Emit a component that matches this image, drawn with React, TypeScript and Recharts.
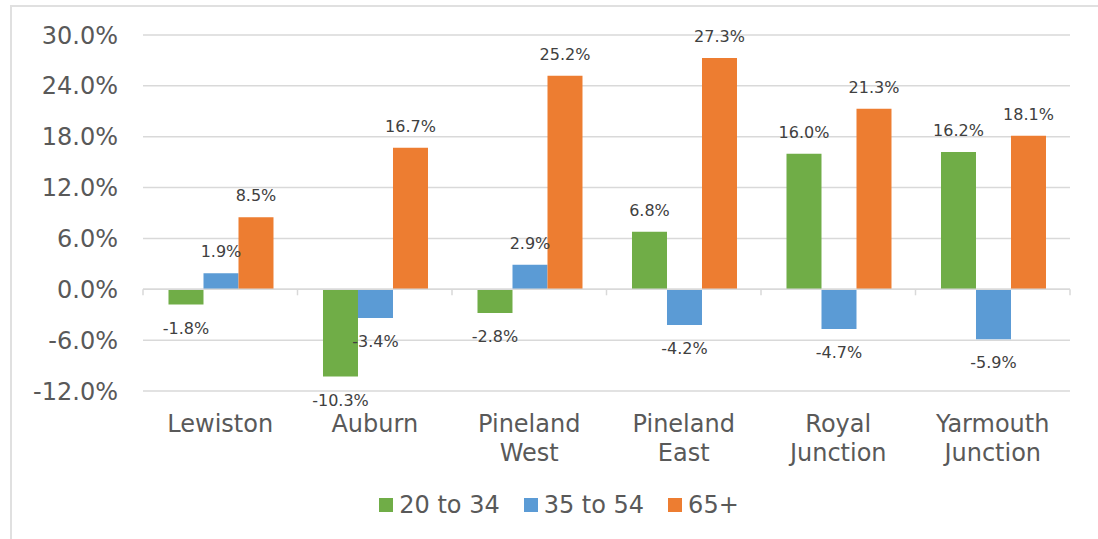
import React from 'react';
import {
  BarChart,
  Bar,
  XAxis,
  YAxis,
  CartesianGrid,
  Legend,
  LabelList,
  ReferenceLine,
} from 'recharts';

// Population change by age group, per town (percent)
const categories = [
  'Lewiston',
  'Auburn',
  'Pineland West',
  'Pineland East',
  'Royal Junction',
  'Yarmouth Junction',
];
const age20to34 = [-1.8, -10.3, -2.8, 6.8, 16.0, 16.2];
const age35to54 = [1.9, -3.4, 2.9, -4.2, -4.7, -5.9];
const age65plus = [8.5, 16.7, 25.2, 27.3, 21.3, 18.1];
const yTicks = [-12, -6, 0, 6, 12, 18, 24, 30];

const series = [
  { key: 'a', name: '20 to 34', color: '#70AD47' },
  { key: 'b', name: '35 to 54', color: '#5B9BD5' },
  { key: 'c', name: '65+', color: '#ED7D31' },
];

const chartData = categories.map((name, i) => ({
  name,
  a: age20to34[i],
  b: age35to54[i],
  c: age65plus[i],
}));

const FONT = '"DejaVu Sans", Verdana, sans-serif';
const AXIS_TEXT = '#595959';
const GRID = '#d9d9d9';

const pct = (v: number) => `${v.toFixed(1)}%`;

// value labels sit above positive bars and below negative ones
const renderValueLabel = (props: any) => {
  const { x, y, width, height, value } = props;
  const top = Math.min(Number(y), Number(y) + Number(height));
  const bottom = Math.max(Number(y), Number(y) + Number(height));
  const cx = Number(x) + Number(width) / 2;
  const ty = value >= 0 ? top - 16 : bottom + 29;
  return (
    <text
      x={cx}
      y={ty}
      textAnchor="middle"
      fill="#404040"
      fontSize={16}
      fontFamily={FONT}
    >
      {pct(Number(value))}
    </text>
  );
};

// category names wrap one word per line
const CategoryTick = (props: any) => {
  const { x, y, payload } = props;
  const words = String(payload.value).split(' ');
  return (
    <text
      x={x}
      y={y + 41}
      textAnchor="middle"
      fill={AXIS_TEXT}
      fontSize={24}
      fontFamily={FONT}
    >
      {words.map((w, i) => (
        <tspan key={w} x={x} dy={i === 0 ? 0 : 29}>
          {w}
        </tspan>
      ))}
    </text>
  );
};

// horizontal axis line crossing at zero, with tick marks between categories
const ZeroAxis = (props: any) => {
  const { x1, x2, y1 } = props;
  const step = (x2 - x1) / categories.length;
  const marks = [];
  for (let i = 0; i <= categories.length; i++) {
    const tx = x1 + i * step;
    marks.push(
      <line key={i} x1={tx} x2={tx} y1={y1} y2={y1 + 6} stroke={GRID} strokeWidth={1.5} />
    );
  }
  return (
    <g>
      <line x1={x1} x2={x2} y1={y1} y2={y1} stroke={GRID} strokeWidth={1.5} />
      {marks}
    </g>
  );
};

const LegendContent = () => (
  <div
    style={{
      display: 'flex',
      justifyContent: 'center',
      alignItems: 'center',
      fontFamily: FONT,
      fontSize: 24,
      lineHeight: '28px',
      color: AXIS_TEXT,
    }}
  >
    {series.map((s, i) => (
      <div
        key={s.key}
        style={{
          display: 'flex',
          alignItems: 'center',
          marginRight: i < series.length - 1 ? 24 : 0,
        }}
      >
        <span
          style={{
            display: 'inline-block',
            width: 14,
            height: 14,
            background: s.color,
            marginRight: 6,
          }}
        />
        <span>{s.name}</span>
      </div>
    ))}
  </div>
);

export default function App() {
  return (
    <div
      style={{
        position: 'absolute',
        left: 0,
        top: 0,
        width: 1098,
        height: 539,
        overflow: 'hidden',
        background: '#fff',
      }}
    >
      <div
        style={{
          position: 'absolute',
          left: 10,
          top: 5,
          width: 1200,
          height: 600,
          border: '2px solid #e0e0e0',
          boxSizing: 'border-box',
        }}
      />
      <div style={{ position: 'absolute', left: 0, top: 0 }}>
        <BarChart
          width={1098}
          height={539}
          data={chartData}
          margin={{ top: 35, right: 28, bottom: 48, left: 0 }}
          barCategoryGap="16.5%"
          barGap={0}
        >
          <CartesianGrid vertical={false} stroke={GRID} strokeWidth={1.5} />
          <XAxis
            dataKey="name"
            axisLine={false}
            tickLine={false}
            tickSize={0}
            tickMargin={0}
            interval={0}
            height={100}
            tick={<CategoryTick />}
          />
          <YAxis
            domain={[-12, 30]}
            ticks={yTicks}
            width={143}
            axisLine={false}
            tickLine={false}
            tickSize={0}
            tickMargin={25}
            tickFormatter={pct}
            tick={{ fill: AXIS_TEXT, fontSize: 24, fontFamily: FONT }}
          />
          <ReferenceLine y={0} shape={<ZeroAxis />} />
          {series.map((s) => (
            <Bar
              key={s.key}
              dataKey={s.key}
              name={s.name}
              fill={s.color}
              isAnimationActive={false}
            >
              <LabelList dataKey={s.key} content={renderValueLabel} />
            </Bar>
          ))}
          <Legend
            verticalAlign="middle"
            align="center"
            wrapperStyle={{ top: 491, left: 11, width: 1096 }}
            content={<LegendContent />}
          />
        </BarChart>
      </div>
    </div>
  );
}
